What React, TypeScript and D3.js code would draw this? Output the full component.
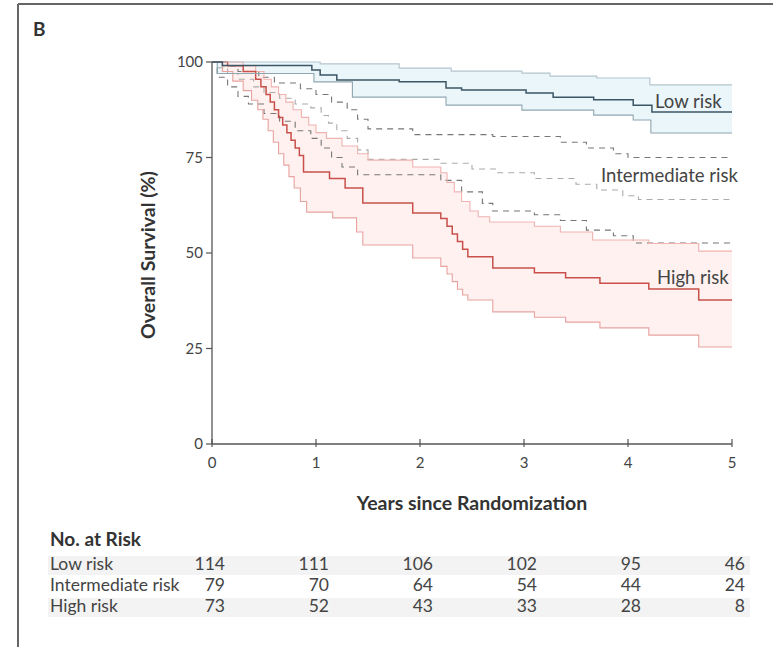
import React from "react";
import * as d3 from "d3";

// survival estimates: [years, percent]
const lowMain = [[0, 100], [0.1, 99.1], [0.96, 97.9], [1.04, 96.6], [1.2, 95.3], [1.8, 94.8], [2.25, 93.2], [2.4, 92.7], [3.02, 91.9], [3.28, 90.8], [3.67, 90.1], [4.05, 88.7], [4.23, 86.9]];
const lowUpper = [[0, 100], [1.04, 99.5], [1.8, 98.4], [2.3, 97.6], [2.98, 97.1], [3.25, 96.3], [3.7, 95.8], [4.21, 94.0]];
const lowLower = [[0, 100], [0.05, 97.0], [0.98, 94.8], [1.35, 90.8], [2.25, 88.7], [2.98, 87.4], [3.67, 86.1], [4.05, 84.8], [4.22, 81.4]];

const intMain = [[0, 100], [0.05, 98.5], [0.15, 97], [0.25, 95.5], [0.4, 93.5], [0.5, 92], [0.65, 90.5], [0.8, 89], [0.95, 88], [1.05, 86], [1.12, 84], [1.2, 82], [1.3, 80], [1.4, 77], [1.5, 74.5], [2.2, 73.5], [2.5, 72], [2.75, 71], [3.1, 69.5], [3.5, 68], [3.7, 66.5], [3.95, 65], [4.1, 64]];
const intUpper = [[0, 100], [0.1, 99], [0.25, 97.5], [0.45, 96], [0.6, 94.5], [0.85, 93], [1.0, 91.5], [1.15, 89.5], [1.3, 87.5], [1.4, 85], [1.5, 82.5], [1.93, 81], [2.7, 80.5], [3.35, 79], [3.6, 77.5], [3.86, 76], [4.0, 75]];
const intLower = [[0, 100], [0.05, 96], [0.15, 93.5], [0.25, 91], [0.35, 89], [0.5, 86.5], [0.65, 84.5], [0.8, 82], [0.95, 80], [1.05, 77.5], [1.15, 75], [1.25, 72.5], [1.4, 70.5], [2.2, 69], [2.4, 66], [2.6, 63], [2.7, 61], [3.1, 60], [3.35, 58.5], [3.6, 56], [3.86, 54.5], [4.05, 52.6]];

const highMain = [[0, 100], [0.15, 99], [0.3, 97.5], [0.42, 95.5], [0.47, 93.5], [0.52, 91.5], [0.56, 89.5], [0.6, 87.5], [0.64, 85.5], [0.68, 83.5], [0.72, 81.5], [0.76, 79.5], [0.8, 77.5], [0.84, 75.5], [0.88, 71.2], [1.13, 69.5], [1.28, 67], [1.45, 63.1], [1.93, 60.5], [2.2, 59], [2.26, 57], [2.31, 55], [2.36, 53], [2.41, 51], [2.46, 49], [2.7, 46.1], [3.1, 44.8], [3.4, 43.5], [3.73, 42.1], [4.2, 40.6], [4.68, 37.7]];
const highUpper = [[0, 100], [0.3, 99], [0.42, 97.5], [0.5, 95.5], [0.57, 93.5], [0.64, 91.5], [0.71, 89.5], [0.78, 87.5], [0.86, 85.5], [0.93, 83.5], [1.0, 81.5], [1.1, 80], [1.25, 78], [1.4, 76], [1.5, 74.3], [1.93, 72.5], [2.2, 71], [2.26, 68.5], [2.33, 66], [2.4, 63.5], [2.48, 61], [2.56, 59.5], [2.67, 58.1], [3.1, 57], [3.35, 55.5], [3.66, 53.4], [4.2, 52.5], [4.68, 50.5]];
const highLower = [[0, 100], [0.1, 97.5], [0.2, 95], [0.3, 92.5], [0.38, 90], [0.44, 87.5], [0.49, 85], [0.54, 82], [0.59, 79], [0.64, 76], [0.69, 73], [0.74, 70], [0.79, 67], [0.85, 63.5], [0.91, 60.7], [1.16, 59.2], [1.39, 55.5], [1.45, 52.1], [1.93, 48.7], [2.2, 46.5], [2.26, 44.5], [2.31, 42.5], [2.36, 40.5], [2.41, 39], [2.46, 37.7], [2.7, 34.6], [3.1, 33.2], [3.4, 31.9], [3.73, 30.4], [4.2, 28.5], [4.68, 25.4]];

const xTicks = [0, 1, 2, 3, 4, 5];
const yTicks = [0, 25, 50, 75, 100];

const riskGroups = ["Low risk", "Intermediate risk", "High risk"];
const lowAtRisk = [114, 111, 106, 102, 95, 46];
const intAtRisk = [79, 70, 64, 54, 44, 24];
const highAtRisk = [73, 52, 43, 33, 28, 8];

const font = "Lato, 'Open Sans', sans-serif";

export default function App() {
  const x = d3.scaleLinear().domain([0, 5]).range([212, 732]);
  const y = d3.scaleLinear().domain([0, 100]).range([444, 62]);

  const extend = (arr) => [...arr, [5, arr[arr.length - 1][1]]];

  const line = d3
    .line()
    .curve(d3.curveStepAfter)
    .x((d) => x(d[0]))
    .y((d) => y(d[1]));

  // value of a step curve at time t
  const stepAt = (arr, t) => {
    let v = arr[0][1];
    for (const p of arr) if (p[0] <= t) v = p[1];
    return v;
  };

  const band = (lo, hi) => {
    const times = Array.from(new Set([...lo, ...hi].map((d) => d[0]).concat([5]))).sort((a, b) => a - b);
    return d3
      .area()
      .curve(d3.curveStepAfter)
      .x((t) => x(t))
      .y0((t) => y(stepAt(lo, t)))
      .y1((t) => y(stepAt(hi, t)))(times);
  };

  const atRisk = [lowAtRisk, intAtRisk, highAtRisk];
  const rowY = [570, 591, 612];

  return (
    <div style={{ position: "absolute", left: 0, top: 0 }}>
      <svg width={773} height={647} style={{ display: "block", background: "#fff" }} fontFamily={font}>
        {/* panel frame */}
        <line x1={18} y1={4} x2={773} y2={4} stroke="#666" strokeWidth={2} />
        <line x1={18} y1={4} x2={18} y2={647} stroke="#666" strokeWidth={2} />
        <text x={33} y={36} fontSize={19} fontWeight="bold" fill="#333">B</text>

        {/* confidence bands */}
        <path d={band(lowLower, lowUpper)} fill="#ebf6fa" />
        <path d={band(highLower, highUpper)} fill="#fef1f0" />

        {/* intermediate */}
        <path d={line(extend(intUpper))} fill="none" stroke="#777" strokeWidth={1.1} strokeDasharray="6,5" />
        <path d={line(extend(intLower))} fill="none" stroke="#777" strokeWidth={1.1} strokeDasharray="6,5" />
        <path d={line(extend(intMain))} fill="none" stroke="#aaa" strokeWidth={1.1} strokeDasharray="6,5" />

        {/* high */}
        <path d={line(extend(highUpper))} fill="none" stroke="#efb3b0" strokeWidth={1.1} />
        <path d={line(extend(highLower))} fill="none" stroke="#e8a3a0" strokeWidth={1.1} />
        <path d={line(extend(highMain))} fill="none" stroke="#c9504a" strokeWidth={1.5} />

        {/* low */}
        <path d={line(extend(lowUpper))} fill="none" stroke="#b3c4cd" strokeWidth={1.1} />
        <path d={line(extend(lowLower))} fill="none" stroke="#90a6b2" strokeWidth={1.1} />
        <path d={line(extend(lowMain))} fill="none" stroke="#3c5666" strokeWidth={1.5} />

        {/* axes */}
        <line x1={212} y1={y(100)} x2={212} y2={y(0)} stroke="#555" strokeWidth={1.3} />
        <line x1={212} y1={y(0)} x2={x(5)} y2={y(0)} stroke="#555" strokeWidth={1.3} />
        {yTicks.map((t) => (
          <g key={"y" + t}>
            <line x1={206} x2={212} y1={y(t)} y2={y(t)} stroke="#555" strokeWidth={1.2} />
            <text x={203} y={y(t) + 5} textAnchor="end" fontSize={15} fill="#444">{t}</text>
          </g>
        ))}
        {xTicks.map((t) => (
          <g key={"x" + t}>
            <line x1={x(t)} x2={x(t)} y1={y(0) - 5} y2={y(0) + 3} stroke="#555" strokeWidth={1.2} />
            <text x={x(t)} y={y(0) + 24} textAnchor="middle" fontSize={15} fill="#444">{t}</text>
          </g>
        ))}
        <text x={472} y={510} textAnchor="middle" fontSize={19.5} fontWeight="bold" fill="#333">Years since Randomization</text>
        <text transform="translate(155,255) rotate(-90)" textAnchor="middle" fontSize={19.5} fontWeight="bold" fill="#333">Overall Survival (%)</text>

        {/* curve labels */}
        <text x={655} y={108} fontSize={18.5} fill="#444">Low risk</text>
        <text x={601} y={182} fontSize={18.5} fill="#444">Intermediate risk</text>
        <text x={657} y={284} fontSize={18.5} fill="#444">High risk</text>

        {/* number at risk table */}
        <text x={50} y={546} fontSize={19} fontWeight="bold" fill="#333">No. at Risk</text>
        {[0, 2].map((i) => (
          <rect key={"band" + i} x={48} y={rowY[i] - 14} width={702} height={19} fill="#f3f3f3" />
        ))}
        {riskGroups.map((g, i) => (
          <g key={g}>
            <text x={50} y={rowY[i]} fontSize={17.5} fill="#444">{g}</text>
            {atRisk[i].map((n, j) => (
              <text key={j} x={x(xTicks[j]) + 13} y={rowY[i]} textAnchor="end" fontSize={17.5} fill="#444">{n}</text>
            ))}
          </g>
        ))}
      </svg>
    </div>
  );
}
